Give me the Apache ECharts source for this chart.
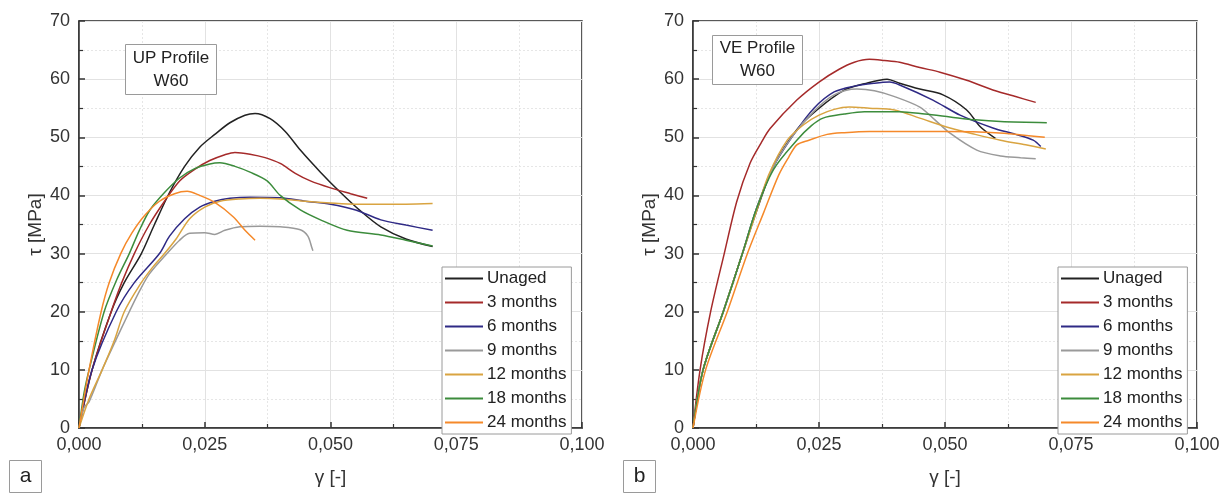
<!DOCTYPE html>
<html>
<head>
<meta charset="utf-8">
<script src="https://cdn.jsdelivr.net/npm/echarts@6/dist/echarts.min.js"></script>
<style>
html,body{margin:0;padding:0;background:#fff;}
#chart{width:1227px;height:493px;}
</style>
</head>
<body>
<div id="chart"></div>
<script>
// ---------- data ----------
var seriesNames = ['Unaged','3 months','6 months','9 months','12 months','18 months','24 months'];
var seriesColors = ['#222222','#A52A2A','#2F2A85','#9A9A9A','#D9A441','#3C8C3C','#F5892A'];
var xTickLabels = ['0,000','0,025','0,050','0,075','0,100'];
var yTicks = [0,10,20,30,40,50,60,70];

// UP profile (panel a)
var upUnaged = [[0,0],[0.0026,10],[0.0064,20],[0.009,25],[0.0124,30],[0.015,35],[0.018,40.5],[0.021,45],[0.024,48.3],[0.027,50.5],[0.030,52.5],[0.033,53.8],[0.035,54.1],[0.038,53.2],[0.041,51],[0.044,47.8],[0.048,44],[0.052,40.5],[0.056,37.3],[0.060,34.6],[0.065,32.5],[0.0703,31.2]];
var up3m = [[0,0],[0.0026,10],[0.0064,20],[0.0085,25],[0.011,30],[0.014,35],[0.017,39],[0.020,42.5],[0.023,44.5],[0.026,46],[0.029,47],[0.031,47.4],[0.034,47.1],[0.037,46.5],[0.040,45.5],[0.043,43.8],[0.046,42.5],[0.050,41.3],[0.054,40.3],[0.0573,39.5]];
var up6m = [[0,0],[0.0026,10],[0.0074,20],[0.011,25],[0.016,30],[0.018,33],[0.021,36],[0.024,38],[0.027,39],[0.030,39.5],[0.034,39.7],[0.040,39.6],[0.045,39],[0.050,38.5],[0.055,37.5],[0.060,35.8],[0.065,34.9],[0.0703,34]];
var up9m = [[0,0],[0.001,3.5],[0.002,4.5],[0.0046,10],[0.007,14.5],[0.010,20],[0.012,23.5],[0.014,26.5],[0.0175,30],[0.020,32.3],[0.022,33.5],[0.025,33.6],[0.027,33.3],[0.029,34],[0.032,34.6],[0.036,34.7],[0.040,34.6],[0.044,34.1],[0.0455,33],[0.0463,31],[0.0465,30.5]];
var up12m = [[0,0],[0.002,5],[0.0046,10],[0.007,15],[0.009,20],[0.012,24.5],[0.0145,27.5],[0.017,30],[0.0193,32.5],[0.022,36],[0.025,38],[0.028,39],[0.032,39.4],[0.036,39.5],[0.040,39.4],[0.045,39],[0.050,38.7],[0.055,38.5],[0.060,38.5],[0.065,38.5],[0.0703,38.6]];
var up18m = [[0,0],[0.001,6],[0.002,10],[0.005,20],[0.0075,25.5],[0.010,30],[0.012,34],[0.0141,37.5],[0.017,40.5],[0.020,43],[0.023,44.6],[0.026,45.4],[0.028,45.6],[0.031,45],[0.034,44],[0.0374,42.5],[0.040,40],[0.044,37.5],[0.048,35.8],[0.0533,34],[0.060,33.2],[0.065,32.3],[0.0703,31.3]];
var up24m = [[0,0],[0.002,10],[0.0044,20],[0.006,25],[0.0083,30],[0.0105,33.5],[0.013,36.5],[0.016,39],[0.019,40.3],[0.0215,40.7],[0.024,40],[0.027,38.8],[0.0307,36.3],[0.033,34],[0.035,32.3]];

// VE profile (panel b)
var veUnaged = [[0,0],[0.002,10],[0.006,20],[0.0098,30],[0.0125,37],[0.0159,44.9],[0.0206,51.3],[0.0246,54.7],[0.030,58.1],[0.034,59.2],[0.0385,60],[0.041,59.3],[0.045,58.3],[0.0496,57.3],[0.0543,54.7],[0.057,51.8],[0.060,49.8]];
var ve3m = [[0,0],[0.0014,10],[0.0035,20],[0.0062,30],[0.0087,39],[0.0113,45.5],[0.0135,49],[0.0153,51.5],[0.0206,56.4],[0.025,59.5],[0.029,61.7],[0.032,62.9],[0.035,63.4],[0.038,63.2],[0.041,62.9],[0.045,62],[0.049,61.2],[0.0543,59.8],[0.060,58],[0.064,57],[0.068,56]];
var ve6m = [[0,0],[0.002,10],[0.006,20],[0.0098,30],[0.0125,37.5],[0.016,45],[0.020,50.5],[0.024,55],[0.028,57.8],[0.032,58.8],[0.036,59.3],[0.039,59.5],[0.041,59],[0.0476,56.4],[0.053,53.8],[0.0595,51.6],[0.064,50.5],[0.0675,49.5],[0.069,48.4]];
var ve9m = [[0,0],[0.002,10],[0.006,20],[0.0098,30],[0.0125,37.5],[0.016,45],[0.020,50.5],[0.024,54.5],[0.028,57.3],[0.0325,58.3],[0.036,58],[0.040,57],[0.045,55.2],[0.048,53],[0.051,50.7],[0.0563,47.8],[0.061,46.8],[0.065,46.5],[0.068,46.3]];
var ve12m = [[0,0],[0.002,10],[0.006,20],[0.0098,30],[0.0125,37],[0.015,43.5],[0.0187,49.5],[0.022,52.2],[0.025,53.8],[0.028,54.8],[0.031,55.2],[0.035,55],[0.040,54.7],[0.045,53.3],[0.051,51.6],[0.056,50.5],[0.061,49.5],[0.066,48.7],[0.070,48]];
var ve18m = [[0,0],[0.002,10],[0.006,20],[0.0098,30],[0.0125,37.5],[0.016,44.5],[0.0206,49.5],[0.0235,52],[0.0258,53.3],[0.030,54],[0.034,54.4],[0.041,54.4],[0.046,54],[0.051,53.5],[0.056,53],[0.061,52.7],[0.0702,52.5]];
var ve24m = [[0,0],[0.0025,10],[0.0068,20],[0.0108,30],[0.014,37],[0.017,43.5],[0.019,46.6],[0.0206,48.7],[0.023,49.5],[0.0266,50.5],[0.030,50.8],[0.035,51],[0.041,51],[0.050,51],[0.060,50.8],[0.0698,50]];

var upData = [upUnaged, up3m, up6m, up9m, up12m, up18m, up24m];
var veData = [veUnaged, ve3m, ve6m, ve9m, ve12m, ve18m, ve24m];

// ---------- chart ----------
var FONT = 'Liberation Sans, Arial, sans-serif';
var chart = echarts.init(document.getElementById('chart'), null, {renderer:'canvas'});

function xAxisDef(idx){
  return {
    type:'value', gridIndex:idx, min:0, max:0.1, interval:0.025,
    name:'\u03b3 [-]', nameLocation:'middle', nameGap:40,
    nameTextStyle:{fontFamily:FONT, fontSize:19, color:'#333'},
    axisLine:{show:true, onZero:false, lineStyle:{color:'#333', width:1.5}},
    axisTick:{show:true, inside:true, length:6, lineStyle:{color:'#333', width:1.5}},
    minorTick:{show:true, splitNumber:2, length:4, lineStyle:{color:'#333', width:1.2}},
    axisLabel:{fontFamily:FONT, fontSize:18, color:'#333', margin:8,
      formatter:function(v){ var i=Math.round(v/0.025); return xTickLabels[i]!==undefined?xTickLabels[i]:''; }},
    splitLine:{show:true, lineStyle:{color:'#e2e2e2', width:1}},
    minorSplitLine:{show:true, lineStyle:{color:'#e6e6e6', width:1, type:[2,2]}}
  };
}
function yAxisDef(idx){
  return {
    type:'value', gridIndex:idx, min:0, max:70, interval:10,
    name:'\u03c4 [MPa]', nameLocation:'middle', nameGap:34, nameRotate:90,
    nameTextStyle:{fontFamily:FONT, fontSize:19, color:'#333'},
    axisLine:{show:true, onZero:false, lineStyle:{color:'#333', width:1.5}},
    axisTick:{show:true, inside:true, length:6, lineStyle:{color:'#333', width:1.5}},
    minorTick:{show:true, splitNumber:2, length:4, lineStyle:{color:'#333', width:1.2}},
    axisLabel:{fontFamily:FONT, fontSize:18, color:'#333', margin:9,
      formatter:function(v){ return yTicks.indexOf(v)>=0 ? String(v) : ''; }},
    splitLine:{show:true, lineStyle:{color:'#e2e2e2', width:1}},
    minorSplitLine:{show:true, lineStyle:{color:'#e6e6e6', width:1, type:[2,2]}}
  };
}

var series = [];
[upData, veData].forEach(function(set, g){
  set.forEach(function(d, i){
    series.push({
      type:'line', name:seriesNames[i], xAxisIndex:g, yAxisIndex:g,
      data:d, symbol:'none', smooth:0.3, animation:false,
      lineStyle:{color:seriesColors[i], width:1.5},
      itemStyle:{color:seriesColors[i]}
    });
  });
});

function legendDef(left){
  return {
    orient:'vertical', left:left, top:267,
    data:seriesNames, icon:'rect', itemWidth:38, itemHeight:2, itemGap:7,
    padding:[3,5,3,3],
    backgroundColor:'#fff', borderColor:'#9a9a9a', borderWidth:1,
    textStyle:{fontFamily:FONT, fontSize:17, color:'#222', lineHeight:14, padding:[0,0,0,-1]},
    selectedMode:false
  };
}

function boxGraphic(x, y, w, h, txt, fs){
  return {
    type:'group', left:x, top:y, z:100, children:[
      {type:'rect', z:100, shape:{x:0,y:0,width:w,height:h}, style:{fill:'#fff', stroke:'#9a9a9a', lineWidth:1}},
      {type:'text', z:101, x:w/2, y:h/2, style:{text:txt, fontFamily:FONT, fontSize:fs, fill:'#222', align:'center', verticalAlign:'middle', lineHeight:23}}
    ]
  };
}

chart.setOption({
  backgroundColor:'#fff',
  animation:false,
  grid:[
    {left:79, top:21, width:503, height:407, show:true, borderColor:'#222', borderWidth:1.5, backgroundColor:'transparent'},
    {left:693, top:21, width:504, height:407, show:true, borderColor:'#222', borderWidth:1.5, backgroundColor:'transparent'}
  ],
  xAxis:[xAxisDef(0), xAxisDef(1)],
  yAxis:[yAxisDef(0), yAxisDef(1)],
  legend:[legendDef(442), legendDef(1058)],
  series:series,
  graphic:[
    boxGraphic(125, 44, 91, 50, 'UP Profile\nW60', 17),
    boxGraphic(712, 35, 90, 49, 'VE Profile\nW60', 17),
    boxGraphic(9, 460, 32, 32, 'a', 21),
    boxGraphic(623, 460, 32, 32, 'b', 21)
  ]
});
</script>
</body>
</html>
